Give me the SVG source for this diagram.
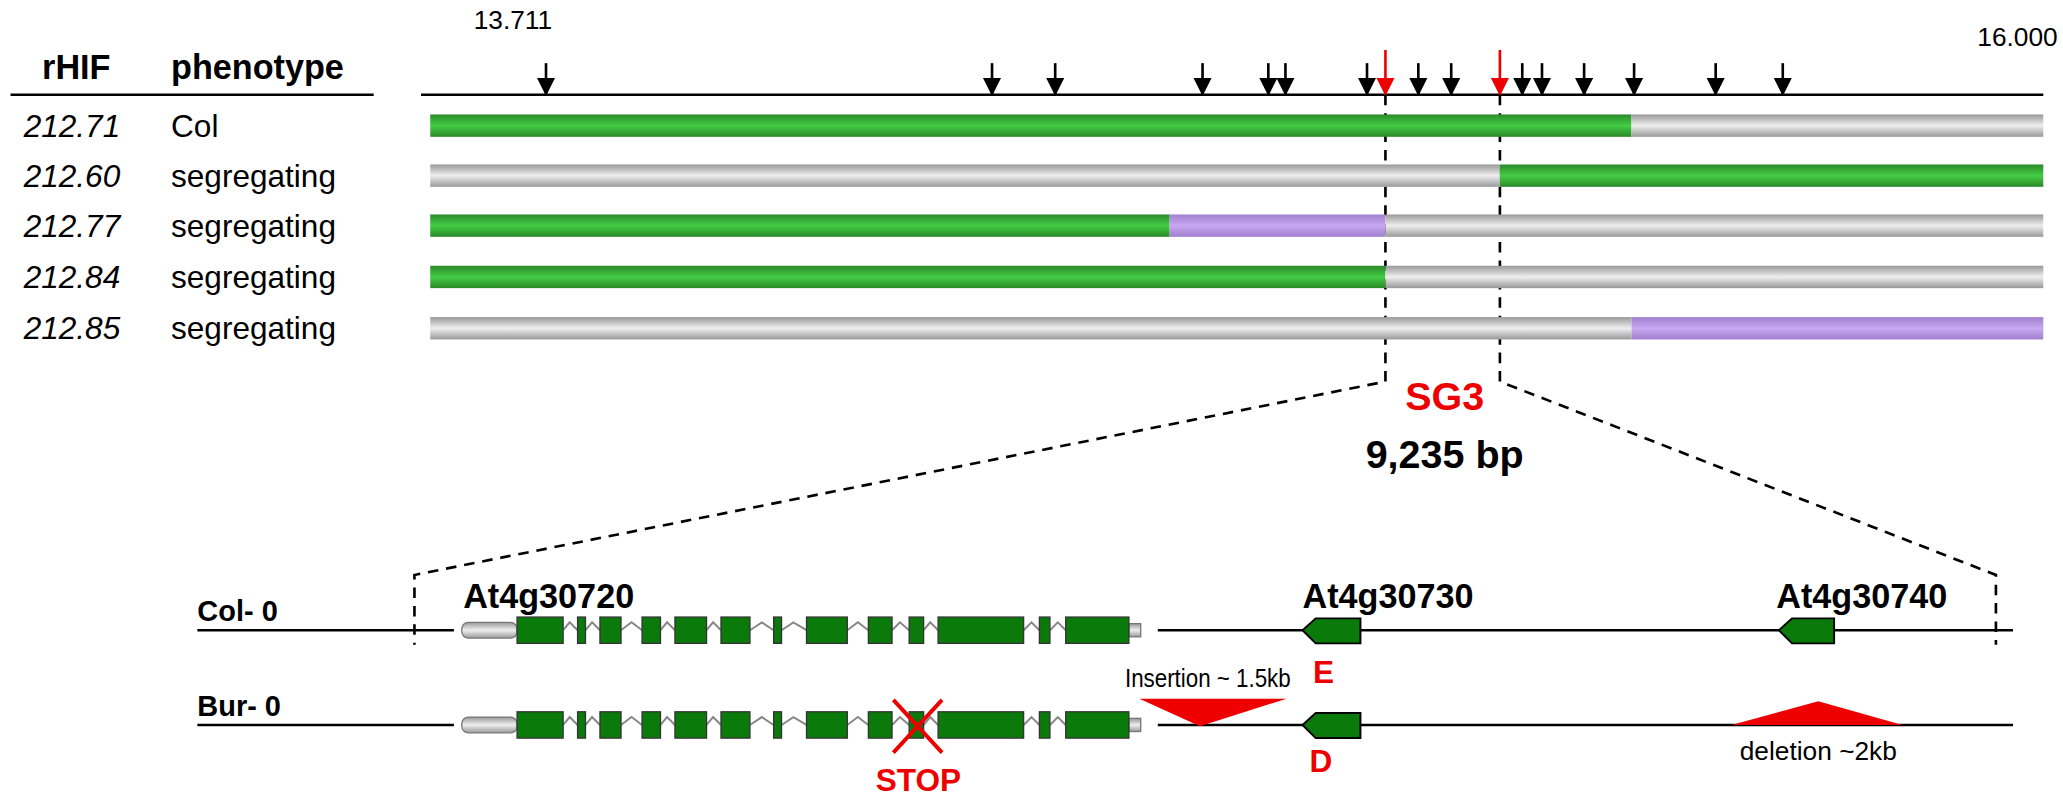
<svg xmlns="http://www.w3.org/2000/svg" width="2063" height="800" viewBox="0 0 2063 800">
<defs>
<linearGradient id="gG" x1="0" y1="0" x2="0" y2="1"><stop offset="0" stop-color="#2a8a2a"/><stop offset="0.5" stop-color="#44cc44"/><stop offset="1" stop-color="#2a8a2a"/></linearGradient>
<linearGradient id="gY" x1="0" y1="0" x2="0" y2="1"><stop offset="0" stop-color="#999"/><stop offset="0.5" stop-color="#eee"/><stop offset="1" stop-color="#999"/></linearGradient>
<linearGradient id="gP" x1="0" y1="0" x2="0" y2="1"><stop offset="0" stop-color="#a080d0"/><stop offset="0.5" stop-color="#c8a8f0"/><stop offset="1" stop-color="#a080d0"/></linearGradient>
<marker id="ah" markerWidth="14" markerHeight="14" refX="13" refY="7" orient="auto" markerUnits="userSpaceOnUse" viewBox="0 0 14 14"><path d="M0,0 L14,7 L0,14 Z" fill="#000"/></marker>
<marker id="ahr" markerWidth="14" markerHeight="14" refX="13" refY="7" orient="auto" markerUnits="userSpaceOnUse" viewBox="0 0 14 14"><path d="M0,0 L14,7 L0,14 Z" fill="#e00"/></marker>
<g id="exons" fill="#0a7a0a" stroke="#333" stroke-width="1">
<rect x="393" y="-10" width="35" height="20"/><rect x="439" y="-10" width="6" height="20"/><rect x="456" y="-10" width="16" height="20"/><rect x="488" y="-10" width="14" height="20"/><rect x="513" y="-10" width="24" height="20"/><rect x="548" y="-10" width="22" height="20"/><rect x="588" y="-10" width="6" height="20"/><rect x="613" y="-10" width="31" height="20"/><rect x="660" y="-10" width="18" height="20"/><rect x="691" y="-10" width="11" height="20"/><rect x="713" y="-10" width="65" height="20"/><rect x="790" y="-10" width="8" height="20"/><rect x="810" y="-10" width="48" height="20"/>
</g>
</defs>
<style>
text{font-family:"Liberation Sans",Arial,sans-serif}
.b{font-weight:bold}
.intr{fill:none;stroke:#888;stroke-width:1.5}
.dash{stroke:#000;stroke-width:2;stroke-dasharray:8,6;fill:none}
</style>
<rect width="2063" height="800" fill="#fff"/>
<g transform="scale(1.3157)">
<g id="header">
<text x="58" y="60" class="b" font-size="26" text-anchor="middle">rHIF</text>
<text x="130" y="60" class="b" font-size="26">phenotype</text>
<line x1="8" y1="72" x2="284" y2="72" stroke="#000" stroke-width="2"/>
<text x="360" y="22" font-size="20">13.711</text>
<text x="1564" y="35" font-size="20" text-anchor="end">16.000</text>
</g>
<g id="connectors">
<line x1="320" y1="72" x2="1553" y2="72" stroke="#000" stroke-width="2"/>
<g stroke="#000" stroke-width="2" marker-end="url(#ah)">
<line x1="415" y1="48" x2="415" y2="72"/><line x1="754" y1="48" x2="754" y2="72"/><line x1="802" y1="48" x2="802" y2="72"/><line x1="914" y1="48" x2="914" y2="72"/><line x1="964" y1="48" x2="964" y2="72"/><line x1="977" y1="48" x2="977" y2="72"/><line x1="1039" y1="48" x2="1039" y2="72"/><line x1="1078" y1="48" x2="1078" y2="72"/><line x1="1103" y1="48" x2="1103" y2="72"/><line x1="1157" y1="48" x2="1157" y2="72"/><line x1="1172" y1="48" x2="1172" y2="72"/><line x1="1204" y1="48" x2="1204" y2="72"/><line x1="1242" y1="48" x2="1242" y2="72"/><line x1="1304" y1="48" x2="1304" y2="72"/><line x1="1355" y1="48" x2="1355" y2="72"/>
</g>
<g stroke="#e00" stroke-width="2" marker-end="url(#ahr)">
<line x1="1053" y1="38" x2="1053" y2="72"/><line x1="1140" y1="38" x2="1140" y2="72"/>
</g>
<path class="dash" d="M1053,72 V290 L315,437 V490 M1140,72 V290 L1517,437 V490"/>
</g>
<g id="rows">
<text x="18" y="104" font-size="24" font-style="italic">212.71</text><text x="130" y="104" font-size="24">Col</text>
<rect x="327" y="87" width="913" height="17" fill="url(#gG)"/><rect x="1240" y="87" width="313" height="17" fill="url(#gY)"/>
<text x="18" y="142" font-size="24" font-style="italic">212.60</text><text x="130" y="142" font-size="24">segregating</text>
<rect x="327" y="125" width="813" height="17" fill="url(#gY)"/><rect x="1140" y="125" width="413" height="17" fill="url(#gG)"/>
<text x="18" y="180" font-size="24" font-style="italic">212.77</text><text x="130" y="180" font-size="24">segregating</text>
<rect x="327" y="163" width="562" height="17" fill="url(#gG)"/><rect x="889" y="163" width="164" height="17" fill="url(#gP)"/><rect x="1053" y="163" width="500" height="17" fill="url(#gY)"/>
<text x="18" y="219" font-size="24" font-style="italic">212.84</text><text x="130" y="219" font-size="24">segregating</text>
<rect x="327" y="202" width="726" height="17" fill="url(#gG)"/><rect x="1053" y="202" width="500" height="17" fill="url(#gY)"/>
<text x="18" y="258" font-size="24" font-style="italic">212.85</text><text x="130" y="258" font-size="24">segregating</text>
<rect x="327" y="241" width="913" height="17" fill="url(#gY)"/><rect x="1240" y="241" width="313" height="17" fill="url(#gP)"/>
</g>
<g id="sg3">
<text x="1098" y="312" class="b" font-size="30" fill="#e00" text-anchor="middle">SG3</text>
<text x="1098" y="356" class="b" font-size="30" text-anchor="middle">9,235 bp</text>
</g>
<g id="col0">
<text x="150" y="472" class="b" font-size="22">Col- 0</text>
<path d="M150,479 H345 M880,479 H1530" stroke="#000" stroke-width="2"/>
<rect x="351" y="473" width="42" height="12" rx="5" fill="url(#gY)" stroke="#777"/>
<rect x="858" y="474" width="9" height="10" fill="url(#gY)" stroke="#777"/>
<path class="intr" d="M428,479 l5,-6 l6,6 M445,479 l5,-6 l6,6 M472,479 l8,-6 l8,6 M502,479 l5,-6 l6,6 M537,479 l5,-6 l6,6 M570,479 l9,-6 l9,6 M594,479 l9,-6 l10,6 M644,479 l8,-6 l8,6 M678,479 l6,-6 l7,6 M702,479 l5,-6 l6,6 M778,479 l6,-6 l6,6 M798,479 l6,-6 l6,6"/>
<use href="#exons" transform="translate(0,479)"/>
<text x="352" y="462" class="b" font-size="26">At4g30720</text>
<text x="990" y="462" class="b" font-size="26">At4g30730</text>
<text x="1350" y="462" class="b" font-size="26">At4g30740</text>
<path d="M1034,470 H1000 L990,479 L1000,489 H1034 Z" fill="#0a7a0a" stroke="#000" stroke-width="1.5"/>
<path d="M1394,470 H1362 L1352,479 L1362,489 H1394 Z" fill="#0a7a0a" stroke="#000" stroke-width="1.5"/>
<text x="1006" y="519" class="b" font-size="24" fill="#e00" text-anchor="middle">E</text>
</g>
<g id="bur0">
<text x="150" y="544" class="b" font-size="22">Bur- 0</text>
<path d="M150,551 H345 M880,551 H1530" stroke="#000" stroke-width="2"/>
<rect x="351" y="545" width="42" height="12" rx="5" fill="url(#gY)" stroke="#777"/>
<rect x="858" y="546" width="9" height="10" fill="url(#gY)" stroke="#777"/>
<path class="intr" d="M428,551 l5,-6 l6,6 M445,551 l5,-6 l6,6 M472,551 l8,-6 l8,6 M502,551 l5,-6 l6,6 M537,551 l5,-6 l6,6 M570,551 l9,-6 l9,6 M594,551 l9,-6 l10,6 M644,551 l8,-6 l8,6 M678,551 l6,-6 l7,6 M702,551 l5,-6 l6,6 M778,551 l6,-6 l6,6 M798,551 l6,-6 l6,6"/>
<use href="#exons" transform="translate(0,551)"/>
<path d="M679,532 L716,572 M716,532 L679,572" stroke="#e00" stroke-width="3"/>
<text x="698" y="601" class="b" font-size="24" fill="#e00" text-anchor="middle">STOP</text>
<path d="M1034,542 H1000 L990,551 L1000,561 H1034 Z" fill="#0a7a0a" stroke="#000" stroke-width="1.5"/>
<text x="1004" y="587" class="b" font-size="24" fill="#e00" text-anchor="middle">D</text>
<path d="M866,531 H978 L912,552 Z" fill="#e00"/>
<text x="855" y="522" font-size="19" textLength="126" lengthAdjust="spacingAndGlyphs">Insertion ~ 1.5kb</text>
<path d="M1316,551 H1446 L1382,533 Z" fill="#e00"/>
<text x="1382" y="578" font-size="20" text-anchor="middle">deletion ~2kb</text>
</g>
</g>
</svg>
